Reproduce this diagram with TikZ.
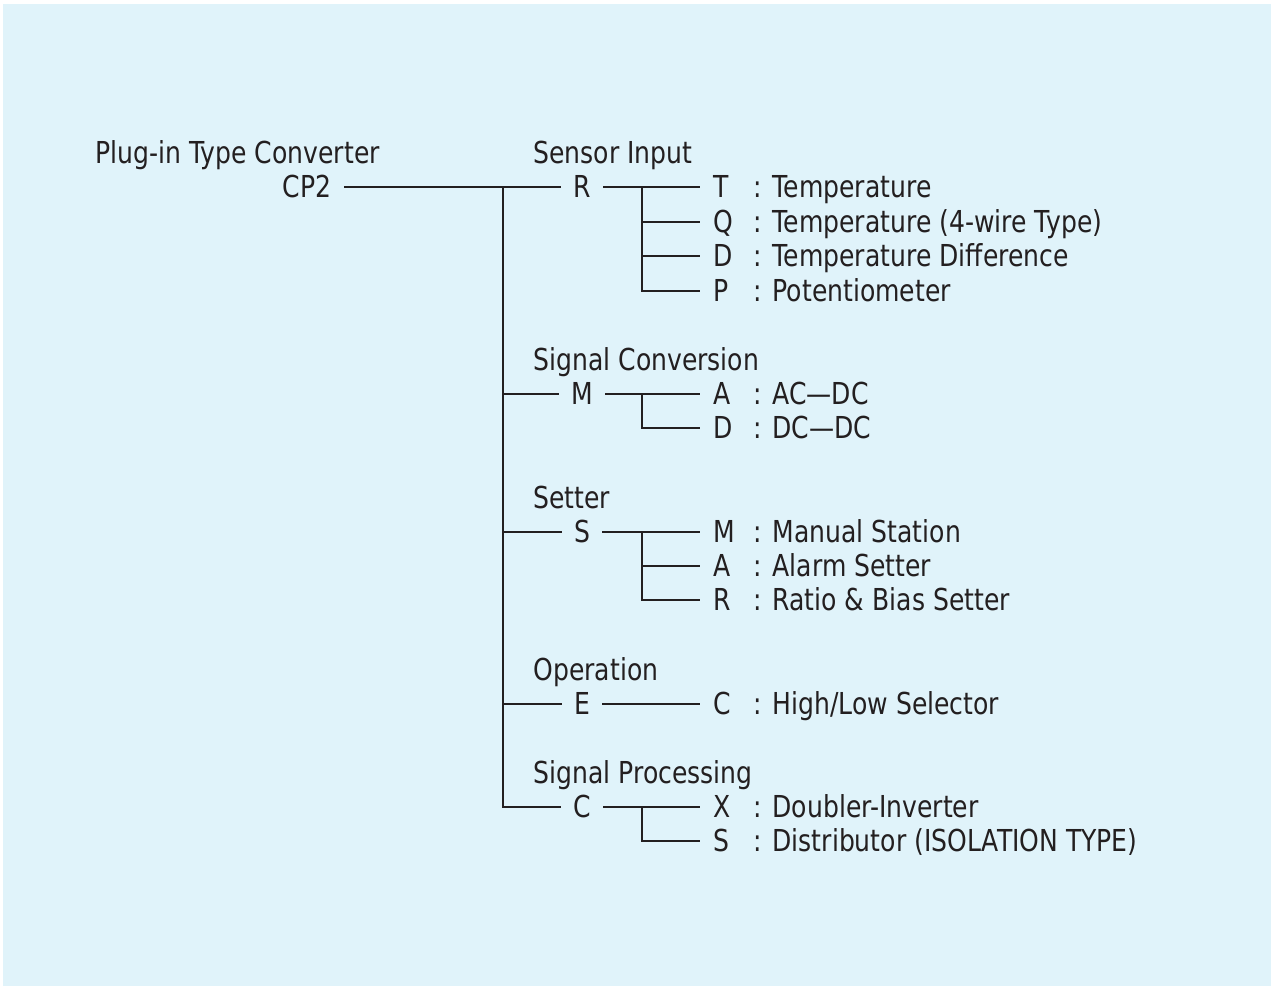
\documentclass[tikz,border=0pt]{standalone}
\usepackage{fontspec}
\setmainfont{DejaVu Sans}[FakeStretch=0.83]
\definecolor{panel}{HTML}{E0F3FA}
\definecolor{ink}{HTML}{231F20}
\begin{document}
\begin{tikzpicture}[x=0.02cm, y=-0.02cm, line width=0.6pt, color=ink,
  every node/.style={font=\fontsize{17.2}{20}\selectfont, text=ink, inner ysep=0pt, text height=12.5pt, text depth=0pt},
  lt/.style={inner xsep=0.24cm},
  sub/.style={anchor=west, inner xsep=0.26cm},
  desc/.style={anchor=west, inner xsep=0pt},
  cat/.style={anchor=west, inner xsep=0pt}]
  \useasboundingbox (0,0) rectangle (1274,988);
  \fill[panel] (3,4) rectangle (1271,986);
  % root
  \node[cat] (title) at (95,153) {Plug-in Type Converter};
  \node[lt, anchor=east] (cp2) at (344,187) {CP2};
  % first level: category and letter
  \foreach \n/\y/\lbl in {R/187/Sensor Input, M/394/Signal Conversion, S/532/Setter, E/704/Operation, C/807/Signal Processing} {
    \node[lt] (\n) at (582,\y) {\n};
    \node[cat] (cat\n) at (533,\y-34) {\lbl};
  }
  % second level: letter and meaning
  \foreach \p/\k/\y/\txt in {R/T/187/Temperature, R/Q/222/Temperature (4-wire Type), R/D/256/Temperature Difference, R/P/291/Potentiometer,
      M/A/394/AC---DC, M/D/428/DC---DC, S/M/532/Manual Station, S/A/566/Alarm Setter, S/R/600/Ratio \& Bias Setter,
      E/C/704/{High/Low Selector}, C/X/807/Doubler-Inverter, C/S/841/Distributor (ISOLATION TYPE)} {
    \node[sub] (\p\k) at (700,\y) {\k};
    \node[desc] (d\p\k) at (753,\y) {: \txt};
  }
  % trunk
  \coordinate (trunk) at (503,187);
  \coordinate (fx) at (642,0);
  \draw (cp2.east) -- (R.west);
  \draw (trunk) |- (C.west);
  \foreach \n in {M,S,E} \draw (trunk |- \n.west) -- (\n.west);
  % forks
  \foreach \p/\first/\last in {R/T/P, M/A/D, S/M/R, C/X/S} {
    \draw (\p.east) -- (\p\first.west);
    \draw (\p.east -| fx) |- (\p\last.west);
  }
  \foreach \k in {RQ,RD,SA} \draw (fx |- \k.west) -- (\k.west);
  \draw (E.east) -- (EC.west);
\end{tikzpicture}
\end{document}
